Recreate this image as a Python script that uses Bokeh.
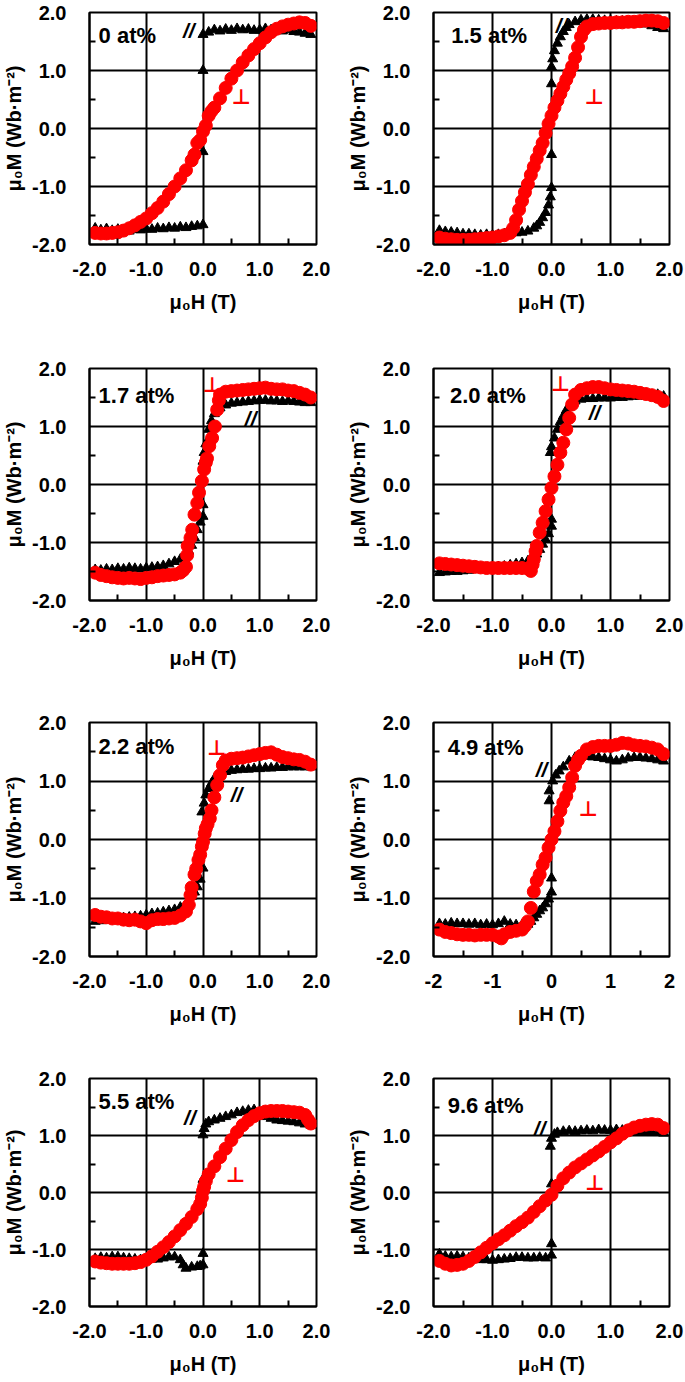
from bokeh.plotting import figure
from bokeh.layouts import column, row
from bokeh.models import FixedTicker, PrintfTickFormatter, Label, Range1d
from bokeh.embed import file_html
from bokeh.resources import INLINE

# ---------------- data ----------------
# 0 at%
H_PAR_00 = [-1.9,-1.8,-1.7,-1.6,-1.5,-1.4,-1.3,-1.2,-1.1,-1.0,-0.9,-0.8,-0.7,-0.6,-0.5,-0.4,-0.3,-0.2,-0.1,0.0,0.0,0.0,0.0,0.1,0.2,0.3,0.4,0.5,0.6,0.7,0.8,0.9,1.0,1.1,1.2,1.3,1.4,1.5,1.6,1.7,1.8,1.9]
M_PAR_00 = [-1.72,-1.75,-1.73,-1.76,-1.74,-1.75,-1.77,-1.74,-1.75,-1.73,-1.74,-1.72,-1.73,-1.71,-1.72,-1.70,-1.71,-1.69,-1.68,-1.66,-0.40,1.00,1.62,1.66,1.70,1.68,1.71,1.69,1.72,1.70,1.71,1.69,1.70,1.72,1.70,1.69,1.68,1.70,1.67,1.66,1.64,1.62]
H_PERP_00 = [-1.9,-1.8,-1.7,-1.6,-1.5,-1.4,-1.3,-1.2,-1.1,-1.0,-0.9,-0.8,-0.7,-0.6,-0.5,-0.4,-0.3,-0.2,-0.15,-0.1,-0.05,0.0,0.05,0.1,0.15,0.2,0.3,0.4,0.5,0.6,0.7,0.8,0.9,1.0,1.1,1.2,1.3,1.4,1.5,1.6,1.7,1.8,1.9]
M_PERP_00 = [-1.80,-1.81,-1.81,-1.80,-1.79,-1.76,-1.72,-1.67,-1.61,-1.55,-1.46,-1.37,-1.26,-1.13,-1.00,-0.86,-0.72,-0.55,-0.45,-0.25,-0.20,-0.05,0.05,0.22,0.30,0.36,0.52,0.70,0.86,1.00,1.14,1.26,1.37,1.47,1.57,1.66,1.72,1.76,1.79,1.81,1.83,1.82,1.77]

# 1.5 at%
H_PAR_15 = [-1.9,-1.8,-1.7,-1.6,-1.5,-1.4,-1.3,-1.2,-1.1,-1.0,-0.9,-0.8,-0.7,-0.6,-0.5,-0.4,-0.3,-0.25,-0.2,-0.15,-0.1,-0.05,-0.02,0.0,0.0,0.0,0.0,0.02,0.05,0.1,0.15,0.2,0.25,0.3,0.4,0.5,0.6,0.7,0.8,0.9,1.0,1.1,1.2,1.3,1.4,1.5,1.6,1.7,1.8,1.9]
M_PAR_15 = [-1.76,-1.78,-1.79,-1.80,-1.82,-1.82,-1.83,-1.84,-1.83,-1.84,-1.83,-1.82,-1.81,-1.80,-1.79,-1.77,-1.72,-1.68,-1.62,-1.54,-1.45,-1.32,-1.18,-1.02,-0.45,0.77,1.06,1.20,1.34,1.47,1.58,1.67,1.74,1.79,1.84,1.87,1.88,1.88,1.87,1.86,1.86,1.85,1.85,1.84,1.84,1.83,1.80,1.77,1.74,1.72]
H_PERP_15 = [-1.9,-1.8,-1.7,-1.6,-1.5,-1.4,-1.3,-1.2,-1.1,-1.0,-0.9,-0.8,-0.7,-0.65,-0.6,-0.55,-0.5,-0.45,-0.4,-0.35,-0.3,-0.25,-0.2,-0.15,-0.1,-0.05,0.0,0.05,0.1,0.15,0.2,0.25,0.3,0.35,0.4,0.45,0.5,0.55,0.6,0.7,0.8,0.9,1.0,1.1,1.2,1.3,1.4,1.5,1.6,1.7,1.8,1.9]
M_PERP_15 = [-1.88,-1.90,-1.91,-1.92,-1.92,-1.92,-1.91,-1.90,-1.89,-1.88,-1.86,-1.84,-1.80,-1.72,-1.58,-1.40,-1.25,-1.10,-0.96,-0.80,-0.66,-0.52,-0.38,-0.25,-0.08,0.08,0.22,0.36,0.48,0.60,0.72,0.84,0.95,1.07,1.22,1.40,1.58,1.70,1.76,1.80,1.81,1.82,1.82,1.83,1.83,1.84,1.84,1.85,1.86,1.86,1.85,1.82]

# 1.7 at%
H_PAR_17 = [-1.9,-1.8,-1.7,-1.6,-1.5,-1.4,-1.3,-1.2,-1.1,-1.0,-0.9,-0.8,-0.7,-0.6,-0.5,-0.4,-0.3,-0.25,-0.2,-0.15,-0.1,-0.05,0.0,0.0,0.0,0.02,0.05,0.1,0.15,0.2,0.3,0.4,0.5,0.6,0.7,0.8,0.9,1.0,1.1,1.2,1.3,1.4,1.5,1.6,1.7,1.8,1.9]
M_PAR_17 = [-1.47,-1.48,-1.46,-1.47,-1.45,-1.46,-1.44,-1.45,-1.46,-1.44,-1.43,-1.42,-1.40,-1.37,-1.33,-1.29,-1.23,-1.15,-1.05,-0.92,-0.78,-0.65,-0.55,-0.35,0.40,0.55,0.70,0.95,1.10,1.22,1.32,1.37,1.40,1.41,1.42,1.43,1.44,1.45,1.45,1.44,1.44,1.43,1.44,1.43,1.42,1.41,1.41]
H_PERP_17 = [-1.9,-1.8,-1.7,-1.6,-1.5,-1.4,-1.3,-1.2,-1.1,-1.0,-0.9,-0.8,-0.7,-0.6,-0.5,-0.4,-0.35,-0.3,-0.28,-0.27,-0.22,-0.19,-0.15,-0.1,-0.07,-0.02,0.02,0.05,0.07,0.11,0.16,0.21,0.25,0.28,0.3,0.4,0.5,0.6,0.7,0.8,0.9,1.0,1.1,1.2,1.3,1.4,1.5,1.6,1.7,1.8,1.9]
M_PERP_17 = [-1.52,-1.56,-1.58,-1.60,-1.61,-1.62,-1.61,-1.62,-1.63,-1.61,-1.60,-1.58,-1.57,-1.56,-1.55,-1.52,-1.48,-1.42,-1.22,-1.06,-0.92,-0.78,-0.52,-0.32,-0.14,0.06,0.26,0.38,0.45,0.66,0.80,1.00,1.29,1.45,1.55,1.60,1.61,1.62,1.63,1.64,1.65,1.66,1.67,1.65,1.64,1.64,1.62,1.61,1.58,1.55,1.50]

# 2.0 at%
H_PAR_20 = [-1.9,-1.8,-1.7,-1.6,-1.5,-1.4,-1.3,-1.2,-1.1,-1.0,-0.9,-0.8,-0.7,-0.6,-0.5,-0.4,-0.3,-0.25,-0.2,-0.15,-0.1,-0.05,0.0,0.0,-0.02,0.0,0.05,0.1,0.15,0.2,0.25,0.3,0.4,0.5,0.6,0.7,0.8,0.9,1.0,1.1,1.2,1.3,1.4,1.5,1.6,1.7,1.8,1.9]
M_PAR_20 = [-1.52,-1.51,-1.50,-1.50,-1.49,-1.48,-1.47,-1.46,-1.45,-1.44,-1.42,-1.41,-1.39,-1.37,-1.35,-1.32,-1.28,-1.20,-1.12,-1.03,-0.95,-0.85,-0.72,-0.60,0.55,0.65,0.80,0.95,1.08,1.18,1.28,1.35,1.44,1.47,1.48,1.48,1.49,1.49,1.49,1.50,1.50,1.51,1.52,1.52,1.53,1.54,1.55,1.52]
H_PERP_20 = [-1.9,-1.8,-1.7,-1.6,-1.5,-1.4,-1.3,-1.2,-1.1,-1.0,-0.9,-0.8,-0.7,-0.6,-0.5,-0.4,-0.35,-0.32,-0.3,-0.27,-0.25,-0.2,-0.15,-0.1,-0.05,0.0,0.05,0.1,0.15,0.2,0.25,0.3,0.35,0.4,0.5,0.6,0.7,0.8,0.9,1.0,1.1,1.2,1.3,1.4,1.5,1.6,1.7,1.8,1.9]
M_PERP_20 = [-1.36,-1.37,-1.38,-1.39,-1.40,-1.41,-1.42,-1.43,-1.44,-1.44,-1.44,-1.44,-1.44,-1.44,-1.44,-1.45,-1.49,-1.38,-1.29,-1.15,-1.06,-0.83,-0.66,-0.46,-0.26,-0.06,0.14,0.34,0.55,0.72,0.95,1.15,1.38,1.55,1.63,1.66,1.68,1.68,1.66,1.64,1.63,1.62,1.61,1.60,1.58,1.56,1.54,1.51,1.44]

# 2.2 at%
H_PAR_22 = [-1.9,-1.8,-1.7,-1.6,-1.5,-1.4,-1.3,-1.2,-1.1,-1.0,-0.9,-0.8,-0.7,-0.6,-0.5,-0.4,-0.3,-0.2,-0.15,-0.1,-0.05,0.0,-0.02,0.02,0.05,0.1,0.15,0.2,0.3,0.4,0.5,0.6,0.7,0.8,0.9,1.0,1.1,1.2,1.3,1.4,1.5,1.6,1.7,1.8,1.9]
M_PAR_22 = [-1.40,-1.39,-1.38,-1.36,-1.35,-1.34,-1.33,-1.32,-1.31,-1.29,-1.27,-1.26,-1.24,-1.22,-1.20,-1.16,-1.11,-0.97,-0.90,-0.81,-0.68,-0.49,0.47,0.62,0.76,0.87,0.96,1.04,1.13,1.16,1.18,1.19,1.20,1.20,1.21,1.21,1.22,1.22,1.23,1.23,1.24,1.24,1.24,1.24,1.24]
H_PERP_22 = [-1.9,-1.8,-1.7,-1.6,-1.5,-1.4,-1.3,-1.2,-1.1,-1.0,-0.9,-0.8,-0.7,-0.6,-0.5,-0.4,-0.3,-0.25,-0.22,-0.2,-0.15,-0.12,-0.08,-0.05,-0.02,0.0,0.03,0.05,0.08,0.12,0.15,0.2,0.25,0.3,0.35,0.4,0.5,0.6,0.7,0.8,0.9,1.0,1.1,1.2,1.3,1.4,1.5,1.6,1.7,1.8,1.9]
M_PERP_22 = [-1.29,-1.32,-1.33,-1.35,-1.35,-1.37,-1.38,-1.37,-1.40,-1.43,-1.38,-1.36,-1.36,-1.35,-1.34,-1.30,-1.23,-1.12,-0.95,-0.82,-0.60,-0.50,-0.35,-0.26,-0.12,-0.04,0.10,0.19,0.26,0.36,0.50,0.72,0.93,1.10,1.27,1.35,1.38,1.39,1.40,1.42,1.44,1.46,1.48,1.49,1.45,1.41,1.39,1.37,1.36,1.33,1.28]

# 4.9 at%
H_PAR_49 = [-1.9,-1.8,-1.7,-1.6,-1.5,-1.4,-1.3,-1.2,-1.1,-1.0,-0.9,-0.8,-0.7,-0.6,-0.5,-0.4,-0.35,-0.3,-0.25,-0.2,-0.15,-0.1,-0.05,0.0,0.0,-0.04,-0.04,0.02,0.07,0.13,0.2,0.3,0.4,0.5,0.6,0.7,0.8,0.9,1.0,1.1,1.2,1.3,1.4,1.5,1.6,1.7,1.8,1.9]
M_PAR_49 = [-1.44,-1.45,-1.43,-1.44,-1.44,-1.45,-1.44,-1.46,-1.45,-1.46,-1.44,-1.40,-1.45,-1.46,-1.46,-1.45,-1.40,-1.34,-1.28,-1.22,-1.17,-1.10,-1.02,-0.90,-0.66,0.66,0.83,1.00,1.10,1.17,1.24,1.34,1.40,1.41,1.42,1.41,1.40,1.38,1.36,1.34,1.36,1.39,1.40,1.40,1.39,1.38,1.36,1.34]
H_PERP_49 = [-1.9,-1.8,-1.7,-1.6,-1.5,-1.4,-1.3,-1.2,-1.1,-1.0,-0.9,-0.85,-0.8,-0.7,-0.6,-0.5,-0.45,-0.4,-0.35,-0.3,-0.25,-0.2,-0.15,-0.1,-0.05,0.0,0.05,0.1,0.15,0.2,0.25,0.3,0.35,0.4,0.45,0.5,0.6,0.7,0.8,0.9,1.0,1.1,1.2,1.3,1.4,1.5,1.6,1.7,1.8,1.9]
M_PERP_49 = [-1.54,-1.58,-1.60,-1.62,-1.63,-1.63,-1.64,-1.63,-1.63,-1.63,-1.66,-1.69,-1.62,-1.58,-1.56,-1.54,-1.48,-1.40,-1.17,-0.89,-0.71,-0.60,-0.43,-0.31,-0.14,0.00,0.14,0.31,0.49,0.63,0.74,0.89,1.06,1.26,1.36,1.43,1.54,1.58,1.60,1.60,1.60,1.62,1.65,1.64,1.61,1.60,1.59,1.57,1.54,1.46]

# 5.5 at%
H_PAR_55 = [-1.9,-1.8,-1.7,-1.6,-1.5,-1.4,-1.3,-1.2,-1.1,-1.0,-0.9,-0.8,-0.7,-0.6,-0.5,-0.4,-0.35,-0.3,-0.2,-0.1,-0.05,0.0,0.0,0.0,0.0,0.02,0.05,0.1,0.2,0.3,0.4,0.5,0.6,0.7,0.8,0.9,1.0,1.1,1.2,1.3,1.4,1.5,1.6,1.7,1.8,1.9]
M_PAR_55 = [-1.16,-1.14,-1.15,-1.13,-1.13,-1.15,-1.16,-1.17,-1.18,-1.18,-1.17,-1.17,-1.15,-1.13,-1.13,-1.18,-1.27,-1.33,-1.31,-1.30,-1.29,-1.27,-1.07,0.23,1.01,1.12,1.20,1.24,1.27,1.30,1.33,1.36,1.40,1.42,1.44,1.45,1.40,1.33,1.30,1.27,1.26,1.25,1.24,1.22,1.20,1.18]
H_PERP_55 = [-1.9,-1.8,-1.7,-1.6,-1.5,-1.4,-1.3,-1.2,-1.1,-1.0,-0.9,-0.8,-0.7,-0.6,-0.5,-0.4,-0.3,-0.2,-0.1,-0.05,-0.02,0.0,0.02,0.05,0.1,0.2,0.3,0.4,0.5,0.6,0.7,0.8,0.9,1.0,1.1,1.2,1.3,1.4,1.5,1.6,1.7,1.8,1.85,1.9]
M_PERP_55 = [-1.21,-1.23,-1.24,-1.25,-1.25,-1.25,-1.25,-1.24,-1.22,-1.18,-1.12,-1.04,-0.96,-0.87,-0.77,-0.66,-0.55,-0.43,-0.29,-0.20,-0.09,0.03,0.10,0.20,0.32,0.46,0.62,0.77,0.92,1.06,1.18,1.27,1.34,1.39,1.42,1.43,1.43,1.43,1.42,1.41,1.40,1.36,1.28,1.21]

# 9.6 at%
H_PAR_96 = [-1.9,-1.8,-1.7,-1.6,-1.5,-1.4,-1.3,-1.2,-1.1,-1.0,-0.9,-0.8,-0.7,-0.6,-0.5,-0.4,-0.3,-0.2,-0.1,0.0,0.0,0.0,-0.02,0.0,0.05,0.1,0.2,0.3,0.4,0.5,0.6,0.7,0.8,0.9,1.0,1.1,1.2,1.3,1.4,1.5,1.6,1.7,1.8,1.9]
M_PAR_96 = [-1.08,-1.12,-1.13,-1.12,-1.13,-1.15,-1.17,-1.18,-1.18,-1.19,-1.18,-1.17,-1.16,-1.14,-1.14,-1.15,-1.15,-1.14,-1.15,-1.10,-0.90,0.15,0.81,0.95,1.02,1.05,1.07,1.08,1.07,1.08,1.09,1.08,1.10,1.09,1.09,1.10,1.09,1.08,1.07,1.07,1.06,1.05,1.05,1.04]
H_PERP_96 = [-1.9,-1.8,-1.7,-1.6,-1.5,-1.4,-1.3,-1.2,-1.1,-1.0,-0.9,-0.8,-0.7,-0.6,-0.5,-0.4,-0.3,-0.2,-0.1,0.0,0.1,0.2,0.3,0.4,0.5,0.6,0.7,0.8,0.9,1.0,1.1,1.2,1.3,1.4,1.5,1.6,1.7,1.8,1.9]
M_PERP_96 = [-1.20,-1.25,-1.28,-1.27,-1.25,-1.20,-1.13,-1.05,-0.97,-0.89,-0.82,-0.75,-0.67,-0.59,-0.52,-0.44,-0.34,-0.24,-0.14,-0.04,0.12,0.25,0.35,0.44,0.51,0.58,0.65,0.72,0.80,0.88,0.95,1.03,1.09,1.14,1.17,1.19,1.20,1.19,1.13]

SAMPLE_LABELS = ["0 at%", "1.5 at%", "1.7 at%", "2.0 at%", "2.2 at%", "4.9 at%", "5.5 at%", "9.6 at%"]
PAR_H = [H_PAR_00, H_PAR_15, H_PAR_17, H_PAR_20, H_PAR_22, H_PAR_49, H_PAR_55, H_PAR_96]
PAR_M = [M_PAR_00, M_PAR_15, M_PAR_17, M_PAR_20, M_PAR_22, M_PAR_49, M_PAR_55, M_PAR_96]
PERP_H = [H_PERP_00, H_PERP_15, H_PERP_17, H_PERP_20, H_PERP_22, H_PERP_49, H_PERP_55, H_PERP_96]
PERP_M = [M_PERP_00, M_PERP_15, M_PERP_17, M_PERP_20, M_PERP_22, M_PERP_49, M_PERP_55, M_PERP_96]
X_TICKS = [-2, -1, 0, 1, 2]
MINOR_TICKS = [-1.5, -0.5, 0.5, 1.5]

for a, b in zip(PAR_H + PERP_H, PAR_M + PERP_M):
    assert len(a) == len(b), (len(a), len(b))

# ---------------- layout / styles ----------------
SAMPLE_POS = [(-1.84, 1.61), (-1.70, 1.60), (-1.84, 1.53), (-1.72, 1.53),
              (-1.84, 1.59), (-1.76, 1.57), (-1.84, 1.60), (-1.76, 1.52)]
PAR_POS = [(-0.25, 1.69), (0.17, 1.78), (0.84, 1.14), (0.73, 1.24), (0.59, 0.77), (-0.17, 1.19), (-0.23, 1.31), (-0.2, 1.13)]
PERP_POS = [(0.67, 0.55), (0.72, 0.55), (0.16, 1.71), (0.15, 1.74), (0.24, 1.57), (0.62, 0.52), (0.57, 0.30), (0.73, 0.17)]
X_FORMATS = ["%.1f"] * 5 + ["%.0f"] + ["%.1f"] * 2

ROW_H = [356, 354, 356, 316]
ROW_TOP = [12, 12, 12, 12]
ROW_BOTTOM = [112, 110, 110, 76]
COL_W = [340, 345]
COL_LEFT = [88, 93]
COL_RIGHT = [24, 16]

FONT = "Liberation Sans"
RED = "#ff0000"


def make_panel(i):
    r, c = divmod(i, 2)
    p = figure(width=COL_W[c], height=ROW_H[r],
               x_range=Range1d(-2, 2), y_range=Range1d(-2, 2),
               output_backend="svg", toolbar_location=None,
               min_border_left=COL_LEFT[c], min_border_right=COL_RIGHT[c],
               min_border_top=ROW_TOP[r], min_border_bottom=ROW_BOTTOM[r])
    p.background_fill_color = "white"
    p.border_fill_color = "white"
    p.outline_line_color = "black"
    p.outline_line_width = 2
    p.outline_line_alpha = 1.0

    for ax, fmt in ((p.xaxis[0], X_FORMATS[i]), (p.yaxis[0], "%.1f")):
        ax.ticker = FixedTicker(ticks=X_TICKS, minor_ticks=MINOR_TICKS)
        ax.formatter = PrintfTickFormatter(format=fmt)
        ax.axis_line_color = "black"
        ax.axis_line_width = 2
        ax.major_tick_in = 0
        ax.major_tick_out = 0
        ax.minor_tick_in = 6
        ax.minor_tick_out = 0
        ax.minor_tick_line_color = "black"
        ax.minor_tick_line_width = 2
        ax.major_label_text_font = FONT
        ax.major_label_text_font_style = "bold"
        ax.major_label_text_font_size = "20px"
        ax.major_label_text_color = "black"
        ax.axis_label_text_font = FONT
        ax.axis_label_text_font_style = "bold"
        ax.axis_label_text_font_size = "20px"
        ax.axis_label_text_color = "black"

    p.xaxis.axis_label = "μ₀H (T)"
    p.yaxis.axis_label = "μ₀M (Wb·m⁻²)"
    p.xaxis.major_label_standoff = 17
    p.xaxis.axis_label_standoff = 12
    p.yaxis.major_label_standoff = 23
    p.yaxis.axis_label_standoff = 4

    for g in (p.xgrid[0], p.ygrid[0]):
        g.ticker = FixedTicker(ticks=X_TICKS)
        g.grid_line_color = "black"
        g.grid_line_width = 2
        g.grid_line_alpha = 1.0

    p.scatter(PAR_H[i], PAR_M[i], marker="triangle", size=10,
              fill_color="black", line_color="black")
    p.scatter(PERP_H[i], PERP_M[i], marker="circle", size=13,
              fill_color=RED, line_color=RED)

    sx, sy = SAMPLE_POS[i]
    p.add_layout(Label(x=sx, y=sy, text=SAMPLE_LABELS[i], text_font=FONT,
                       text_font_style="bold", text_font_size="22px",
                       text_baseline="middle", text_align="left",
                       text_color="black"))
    px, py = PAR_POS[i]
    p.add_layout(Label(x=px, y=py, text="//", text_font=FONT,
                       text_font_style="bold italic", text_font_size="21px",
                       text_baseline="middle", text_align="center",
                       text_color="black"))
    qx, qy = PERP_POS[i]
    p.add_layout(Label(x=qx, y=qy, text="⊥", text_font="DejaVu Sans",
                       text_font_style="bold", text_font_size="21px",
                       text_baseline="middle", text_align="center",
                       text_color=RED))
    return p


figs = [make_panel(i) for i in range(8)]
layout = column(*[row(figs[2 * r], figs[2 * r + 1]) for r in range(4)])

with open("out.html", "w") as f:
    f.write(file_html(layout, INLINE, "Magnetization curves"))
